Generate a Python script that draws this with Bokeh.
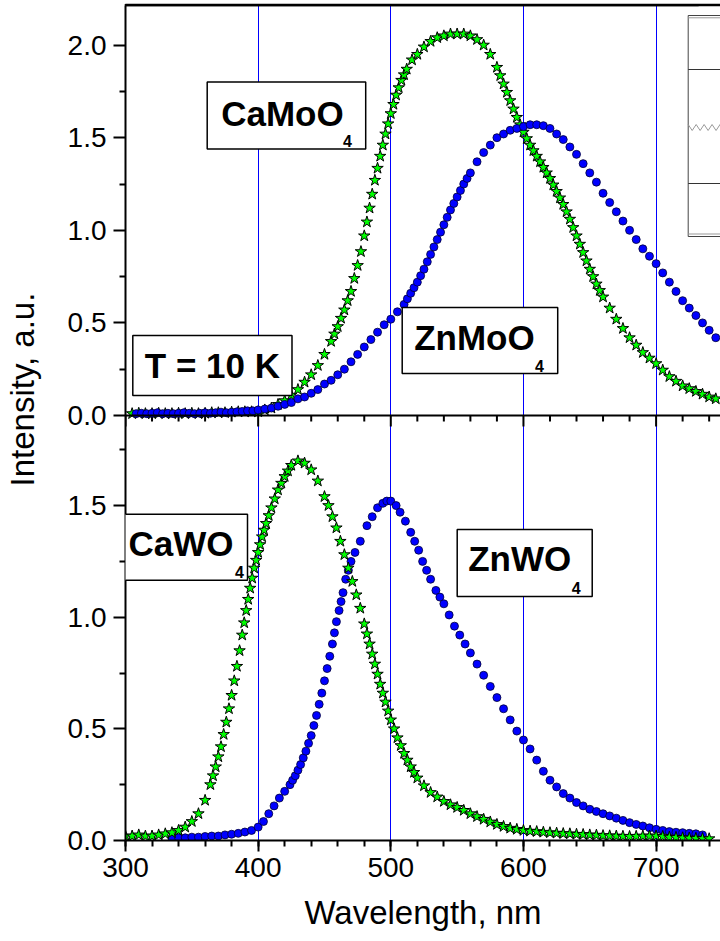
import math
from bokeh.plotting import figure
from bokeh.models import (Range1d, SingleIntervalTicker, FixedTicker,
                          CustomJSTickFormatter, Label, Span, Title)
from bokeh.embed import file_html
from bokeh.resources import INLINE

# ---------------- data ----------------
# Upper panel: molybdates
camoo4_x = [305, 310, 315, 320, 325, 330, 335, 340, 345, 350, 355, 360, 365, 370, 375, 380, 385,
            390, 395, 400, 405, 410, 415, 420, 425, 430,
            435, 440, 445, 450, 455, 457.5, 460, 462.5, 465, 467.5, 470, 472.5, 475, 477.5, 480,
            482, 484, 486, 488, 490, 492, 494, 496, 498, 500, 502, 504, 506, 508, 510, 512, 516,
            520, 525, 530, 535, 540, 545, 550, 555, 560, 565, 570, 575, 580, 582.5, 585, 587.5,
            590, 592.5, 595, 597.5, 600, 602.5, 605, 607.5, 610, 612.5, 615, 617.5, 620, 622.5,
            625, 627.5, 630, 632.5, 635, 637.5, 640, 642.5, 645, 647.5, 650, 652.5, 655, 657.5,
            660, 665, 670, 675, 680, 685, 690, 695, 700, 705, 710, 715, 720, 725, 730, 735, 740,
            745]
camoo4_y = [0.01, 0.012, 0.01, 0.01, 0.012, 0.01, 0.01, 0.012, 0.01, 0.012, 0.01, 0.012, 0.015,
            0.015, 0.015, 0.018, 0.02, 0.02, 0.02, 0.02, 0.03, 0.04, 0.06, 0.08, 0.11, 0.14,
            0.18, 0.22, 0.27, 0.33, 0.40, 0.44, 0.48, 0.525, 0.57, 0.62, 0.67,
            0.74, 0.81, 0.885, 0.97, 1.045, 1.12, 1.195, 1.27, 1.335, 1.40, 1.46, 1.52, 1.575,
            1.63, 1.68, 1.73, 1.77, 1.81, 1.84, 1.87, 1.92, 1.95, 1.99, 2.02, 2.04, 2.05, 2.06,
            2.06, 2.06, 2.05, 2.03, 2.00, 1.95, 1.88, 1.835, 1.79, 1.745, 1.70, 1.655, 1.61, 1.57,
            1.53, 1.495, 1.46, 1.43, 1.40, 1.37, 1.34, 1.31, 1.28, 1.245, 1.21, 1.175, 1.14, 1.10,
            1.06, 1.015, 0.97, 0.925, 0.88, 0.835, 0.79, 0.75, 0.71, 0.675, 0.64, 0.58, 0.52,
            0.47, 0.42, 0.38, 0.34, 0.31, 0.28, 0.245, 0.21, 0.185, 0.16, 0.145, 0.13, 0.115,
            0.10, 0.09]

znmoo4_x = [308, 312, 316, 320, 324, 328, 332, 336, 340, 344, 348, 352, 356, 360, 364, 368, 372,
            376, 380, 384, 388, 392, 396, 400, 405, 410, 415, 420, 425, 430,
            435, 440, 445, 450, 455, 460, 465, 470, 475, 480, 485, 490, 495, 500, 505, 510, 512.5,
            515, 517.5, 520, 522.5, 525, 527.5, 530, 532.5, 535, 537.5, 540, 542.5, 545, 547.5,
            550, 552.5, 555, 557.5, 560, 565, 570, 575, 580, 585, 590, 595, 600, 605, 610, 615,
            620, 625, 630, 635, 640, 645, 650, 655, 660, 665, 670, 675, 680, 685, 690, 695, 700,
            705, 710, 715, 720, 725, 730, 735, 740, 745]
znmoo4_y = [0.01, 0.012, 0.01, 0.012, 0.015, 0.01, 0.012, 0.01, 0.012, 0.015, 0.012, 0.01, 0.012,
            0.015, 0.012, 0.015, 0.018, 0.015, 0.018, 0.02, 0.022, 0.025, 0.025, 0.03, 0.035,
            0.04, 0.05, 0.06, 0.07, 0.09, 0.10, 0.12, 0.14, 0.17, 0.19, 0.22, 0.25, 0.29, 0.33,
            0.37, 0.41, 0.45, 0.49, 0.52, 0.56, 0.60, 0.63, 0.66, 0.69, 0.72, 0.755, 0.79, 0.83,
            0.87, 0.91, 0.95, 0.99, 1.03, 1.07, 1.11, 1.145, 1.18, 1.215, 1.25, 1.28, 1.31, 1.37,
            1.42, 1.46, 1.50, 1.52, 1.54, 1.55, 1.56, 1.57, 1.57, 1.565, 1.55, 1.52, 1.49, 1.45,
            1.41, 1.36, 1.31, 1.26, 1.20, 1.15, 1.10, 1.05, 1.00, 0.95, 0.90, 0.86, 0.82, 0.77,
            0.72, 0.67, 0.62, 0.58, 0.54, 0.50, 0.46, 0.42]

# Lower panel: tungstates
cawo4_x = [300, 305, 310, 315, 320, 325, 330, 335, 340, 345, 350, 355, 360, 364, 366, 368, 370,
           372, 374, 376, 378, 380, 382, 384, 386, 388, 389.5, 391, 392.5, 394, 395.5, 397, 398.5,
           400, 401.5, 403, 404.5, 406, 408, 410, 412.5, 415, 417.5, 420, 422.5, 425, 430, 435,
           440, 445, 450, 453, 456, 459, 462, 465, 468, 471, 474, 477, 480, 482, 484, 486, 488,
           490, 492, 494, 496, 498, 500, 502.5, 505, 507.5, 510, 512.5, 515, 517.5, 520,
           525, 530, 535, 540, 545, 550, 555, 560, 565, 570, 575, 580, 585, 590, 595, 600, 605,
           610, 615, 620, 625, 630, 635, 640, 645, 650, 655, 660, 665, 670, 675, 680, 685, 690,
           695, 700, 705, 710, 715, 720, 725, 730, 735, 740]
cawo4_y = [0.02, 0.02, 0.025, 0.02, 0.02, 0.025, 0.03, 0.035, 0.045, 0.06, 0.085, 0.12, 0.18, 0.25,
           0.29, 0.33, 0.375, 0.42, 0.475, 0.53, 0.59, 0.65, 0.715, 0.78, 0.85, 0.92, 0.975, 1.03,
           1.08, 1.13, 1.175, 1.22, 1.255, 1.29, 1.325, 1.36, 1.39, 1.42, 1.455, 1.49, 1.53, 1.57,
           1.60, 1.63, 1.655, 1.68, 1.70, 1.69, 1.66, 1.61, 1.54, 1.50, 1.45, 1.40, 1.34, 1.28,
           1.22, 1.16, 1.10, 1.04, 0.97, 0.925, 0.88, 0.835, 0.79, 0.745, 0.70, 0.66, 0.62, 0.58,
           0.54, 0.50, 0.46, 0.425, 0.39, 0.36, 0.33, 0.305, 0.28,
           0.245, 0.215, 0.195, 0.175, 0.16, 0.148, 0.135, 0.12, 0.107, 0.095, 0.083, 0.072,
           0.063, 0.055, 0.05, 0.045, 0.042, 0.04, 0.037, 0.035, 0.033, 0.031, 0.03, 0.028,
           0.027, 0.025, 0.024, 0.022, 0.021, 0.02, 0.019, 0.018, 0.019, 0.02, 0.02, 0.02, 0.018,
           0.015, 0.014, 0.012, 0.011, 0.01, 0.009, 0.008]

znwo4_x = [335, 340, 345, 350, 355, 360, 365, 370, 375, 380, 385, 390, 395, 400, 404, 408, 412,
           416, 420, 424, 426, 428, 430, 432, 434, 436, 438, 440, 442, 444, 446, 448, 450, 452,
           454, 456, 457.5, 459, 461, 462.5, 464, 466, 468, 470, 473, 477, 482, 486, 490, 494,
           497, 500, 504, 507, 511, 515, 518, 521, 524, 527, 530, 534, 537, 540, 544, 548, 552,
           556, 560, 565, 570, 575, 580, 585, 590, 595, 600, 605, 610, 615, 620, 625, 630, 635,
           640, 645, 650, 655, 660, 665, 670, 675, 680, 685, 690, 695, 700, 705, 710, 715, 720,
           725, 730, 735]
znwo4_y = [0.01, 0.012, 0.012, 0.015, 0.015, 0.018, 0.02, 0.02, 0.025, 0.028, 0.032, 0.038, 0.045,
           0.06, 0.085, 0.12, 0.155, 0.19, 0.22, 0.25, 0.27, 0.29, 0.315, 0.34, 0.37, 0.40, 0.435,
           0.47, 0.515, 0.56, 0.61, 0.66, 0.715, 0.77, 0.825, 0.88, 0.93, 0.98, 1.03, 1.07, 1.11,
           1.17, 1.21, 1.25, 1.29, 1.34, 1.41, 1.45, 1.49, 1.51, 1.52, 1.52, 1.50, 1.47, 1.43,
           1.38, 1.34, 1.30, 1.25, 1.21, 1.17, 1.12, 1.09, 1.06, 1.01, 0.96, 0.92, 0.88, 0.84,
           0.79, 0.74, 0.69, 0.64, 0.59, 0.54, 0.49, 0.45, 0.41, 0.36, 0.31, 0.27, 0.24, 0.21,
           0.19, 0.17, 0.155, 0.14, 0.13, 0.12, 0.11, 0.10, 0.09, 0.08, 0.072, 0.065, 0.057,
           0.05, 0.045, 0.04, 0.037, 0.035, 0.032, 0.03, 0.025]

y_major_vals = [0.0, 0.5, 1.0, 1.5, 2.0]
y_minor_vals = [0.25, 0.75, 1.25, 1.75]

# ---------------- layout constants ----------------
W, H = 720, 941
BL, BT, BB = 125, 5, 101
FRAME_H = H - BT - BB                 # 835 px
PX_BOT = 223.3                        # px per unit, lower panel
PX_TOP = 185.2                        # px per unit, upper panel
PX_X = 1.3265                         # px per nm
X0 = 300
X1 = X0 + (W - BL) / PX_X
BOT_END = FRAME_H / PX_BOT
SPLIT_PX = 425                        # upper-panel zero, px above frame bottom
TOP_START = -SPLIT_PX / PX_TOP
TOP_END = (FRAME_H - SPLIT_PX) / PX_TOP
SPLIT = SPLIT_PX / PX_BOT
ASC = 31.7                            # ascent of the 35px box labels


def to_bot(v):
    return (v - TOP_START) / (TOP_END - TOP_START) * BOT_END


def xs(px):  # screen x -> data
    return X0 + (px - BL) / PX_X


def yt(py):  # screen y -> upper-panel data
    return (H - BB - SPLIT_PX - py) / PX_TOP


def yb(py):  # screen y -> lower-panel data
    return (H - BB - py) / PX_BOT


FONT = "Liberation Sans"

p = figure(width=W, height=H, output_backend="svg", toolbar_location=None,
           x_range=Range1d(X0, X1), y_range=Range1d(0, BOT_END),
           min_border_left=BL, min_border_right=0, min_border_top=BT, min_border_bottom=BB)
p.extra_y_ranges = {"top": Range1d(TOP_START, TOP_END)}
p.outline_line_color = None
p.background_fill_color = "white"
p.border_fill_color = "white"

# grid
p.xgrid.ticker = SingleIntervalTicker(interval=100)
p.xgrid.grid_line_color = "#0000ff"
p.xgrid.grid_line_width = 1
p.ygrid.grid_line_color = None

# x axis
xa = p.xaxis[0]
xa.ticker = SingleIntervalTicker(interval=100, num_minor_ticks=5)
xa.axis_label = "Wavelength, nm"
xa.axis_label_text_font = FONT
xa.axis_label_text_font_size = "33px"
xa.axis_label_text_font_style = "normal"
xa.axis_label_text_color = "black"
xa.axis_label_standoff = 14
xa.major_label_text_font = FONT
xa.major_label_text_font_size = "28px"
xa.major_label_text_color = "black"
xa.major_label_standoff = 6
xa.axis_line_width = 2
xa.major_tick_line_width = 2
xa.minor_tick_line_width = 2
xa.major_tick_in = 0
xa.major_tick_out = 11
xa.minor_tick_in = 0
xa.minor_tick_out = 6

# y axis (one axis carrying both panels)
ya = p.yaxis[0]
ya.ticker = FixedTicker(
    ticks=[v for v in y_major_vals if v < SPLIT - 0.1] + [to_bot(v) for v in y_major_vals],
    minor_ticks=[v for v in y_minor_vals if v < SPLIT] + [to_bot(v) for v in y_minor_vals])
ya.formatter = CustomJSTickFormatter(
    args=dict(split=SPLIT, t0=TOP_START, t1=TOP_END, b1=BOT_END),
    code="""
let v = tick;
if (tick > split - 1e-6) { v = t0 + tick / b1 * (t1 - t0); }
if (Math.abs(v) < 1e-6) { v = 0; }
return v.toFixed(1);
""")
ya.major_label_text_font = FONT
ya.major_label_text_font_size = "28px"
ya.major_label_text_color = "black"
ya.major_label_standoff = 7
ya.axis_line_width = 2
ya.major_tick_line_width = 2
ya.minor_tick_line_width = 2
ya.major_tick_in = 0
ya.major_tick_out = 12
ya.minor_tick_in = 0
ya.minor_tick_out = 6

# spacer between the tick labels and the y axis title, then the title itself
p.add_layout(Title(text=" ", text_font_size="1px", standoff=20), "left")
p.add_layout(Title(text="Intensity, a.u.", align="left", offset=354, standoff=2,
                   text_font=FONT, text_font_size="33px", text_font_style="normal",
                   text_color="black"), "left")

# bottom edge of the cropped box above the chart (runs across the left margin too)
p.add_layout(Title(text=" ", text_font_size="1px", align="left", offset=0, standoff=0,
                   padding=dict(left=140, right=572, top=0, bottom=0),
                   border_line_color="black", border_line_width=1.5,
                   background_fill_color=None), "above")

# x axis line of the upper panel, with its ticks pointing down
p.add_layout(Span(location=SPLIT, dimension="width", line_color="black", line_width=2))
maj = list(range(300, 701, 100))
mnr = [t for t in range(320, 741, 20) if t % 100]
p.segment(x0=maj, x1=maj, y0=[SPLIT] * len(maj), y1=[SPLIT - 11 / PX_BOT] * len(maj),
          line_color="black", line_width=2)
p.segment(x0=mnr, x1=mnr, y0=[SPLIT] * len(mnr), y1=[SPLIT - 6 / PX_BOT] * len(mnr),
          line_color="black", line_width=2)

# ---------------- data marks ----------------
p.scatter(camoo4_x, camoo4_y, y_range_name="top", marker="star", size=12,
          fill_color="#00ff00", line_color="black", line_width=1)
p.scatter(znmoo4_x, znmoo4_y, y_range_name="top", marker="circle", size=8,
          fill_color="#0000ff", line_color="#000033", line_width=0.8)
p.scatter(znwo4_x, znwo4_y, marker="circle", size=8,
          fill_color="#0000ff", line_color="#000033", line_width=0.8)
p.scatter(cawo4_x, cawo4_y, marker="star", size=12,
          fill_color="#00ff00", line_color="black", line_width=1)

# ---------------- cropped boxes at the top / right edge ----------------
p.quad(left=xs(687.7), right=X1 + 20, bottom=yt(236), top=yt(15), y_range_name="top",
       fill_color="white", line_color="#444444", line_width=1)
for py, col in ((17.3, "#999999"), (233.5, "#999999"), (69, "#333333"), (183, "#333333")):
    p.line([xs(687.7), X1 + 20], [yt(py), yt(py)], y_range_name="top",
           line_color=col, line_width=1)
zz_x = [xs(687.7) + 3 * i for i in range(14)]
zz_y = [yt(127 + (3 if i % 2 else -3)) for i in range(14)]
p.line(zz_x, zz_y, y_range_name="top", line_color="#999999", line_width=1)

p.add_layout(Label(x=xs(698), y=BOT_END, text=" ", text_font_size="10px",
                   text_align="right", text_baseline="bottom",
                   padding=dict(left=760, right=0, top=60, bottom=0),
                   border_line_color="black", border_line_width=1.5,
                   background_fill_color=None))


# ---------------- text boxes ----------------
def box_label(bx, by, text, pad, conv, rng=None, sub=None):
    kw = dict(y_range_name=rng) if rng else {}
    p.add_layout(Label(x=xs(bx), y=conv(by + ASC), text=text, text_font=FONT,
                       text_font_size="35px", text_font_style="bold", text_color="black",
                       text_align="left", text_baseline="alphabetic",
                       padding=dict(left=pad[0], right=pad[1], top=pad[2], bottom=pad[3]),
                       border_line_color="black", border_line_width=1.5,
                       background_fill_color="white", **kw))
    if sub:
        p.add_layout(Label(x=xs(sub[0]), y=conv(sub[1]), text="4", text_font=FONT,
                           text_font_size="16px", text_font_style="bold",
                           text_color="black", text_align="left",
                           text_baseline="alphabetic", **kw))


box_label(206.7, 83.3, "CaMoO", (14, 22, 12, 16), yt, "top", (342.5, 140))
box_label(401.7, 308.3, "ZnMoO", (12, 23, 10, 17), yt, "top", (534.5, 365))
box_label(132.3, 333.3, "T = 10 K", (12, 12, 10, 11), yt, "top")
box_label(120, 515, "CaWO", (8, 14, 10, 17), yb, None, (234.5, 571.7))
box_label(456.7, 530.7, "ZnWO", (11, 21, 10, 18), yb, None, (571.2, 587))

open("out.html", "w").write(file_html(p, INLINE))
